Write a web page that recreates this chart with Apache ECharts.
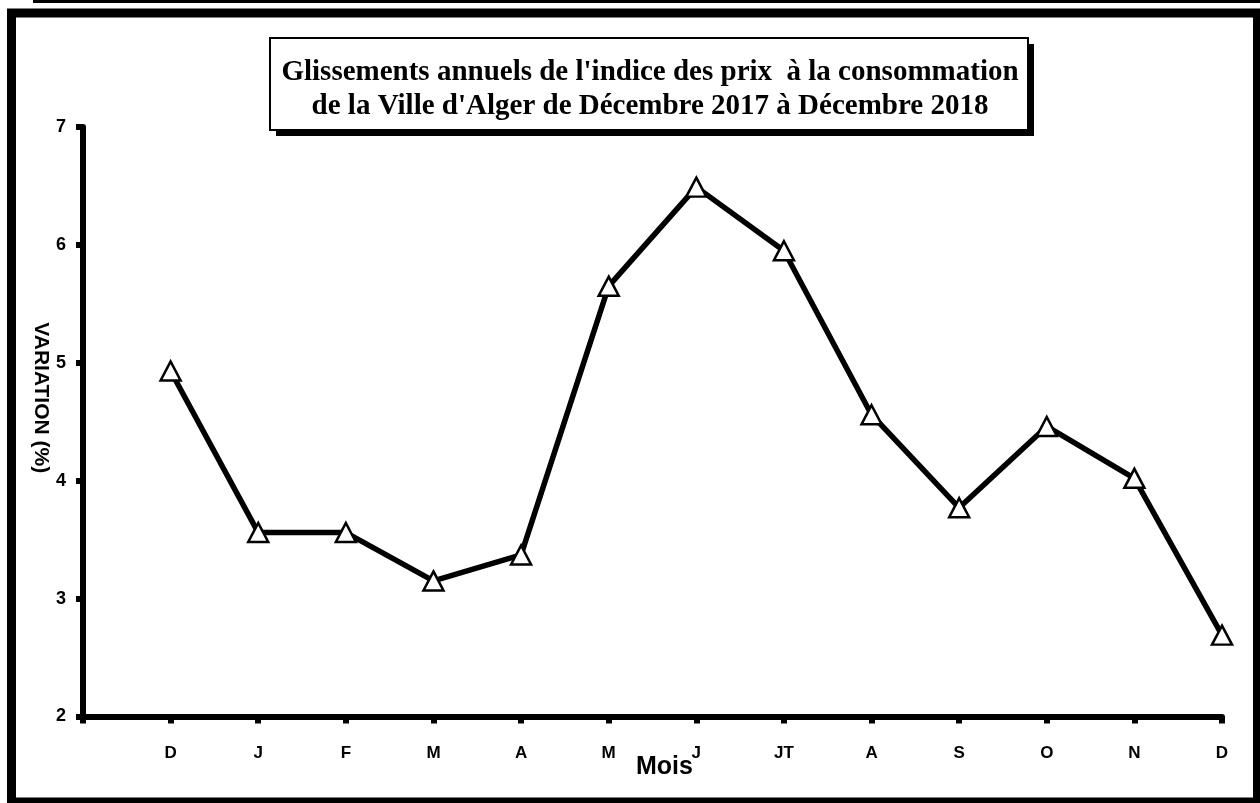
<!DOCTYPE html>
<html>
<head>
<meta charset="utf-8">
<script src="https://cdn.jsdelivr.net/npm/echarts@6/dist/echarts.min.js"></script>
<style>
  html, body { margin: 0; padding: 0; background: #fff; }
  #main { width: 1260px; height: 803px; }
</style>
</head>
<body>
<div id="main"></div>
<script>
// mois (premier emplacement vide pour décaler le D de décembre 2017)
var mois = ['', 'D', 'J', 'F', 'M', 'A', 'M', 'J', 'JT', 'A', 'S', 'O', 'N', 'D'];
// glissements annuels en %
var variation = ['-', 4.93, 3.56, 3.56, 3.15, 3.37, 5.65, 6.49, 5.95, 4.56, 3.77, 4.46, 4.02, 2.69];
var titreLignes = [
    "Glissements annuels de l'indice des prix  à la consommation",
    "de la Ville d'Alger de Décembre 2017 à Décembre 2018"
];

var myChart = echarts.init(document.getElementById('main'));

var option = {
    backgroundColor: '#fff',
    animation: false,
    grid: {
        left: 83,
        right: 38,
        top: 127,
        bottom: 86.5
    },
    graphic: [
        // trait en haut de page
        { type: 'rect', shape: { x: 33, y: 0, width: 1227, height: 3 }, style: { fill: '#000' } },
        // cadre
        { type: 'rect', shape: { x: 11.5, y: 13, width: 1246, height: 789 }, style: { fill: 'none', stroke: '#000', lineWidth: 9 } },
        // ombre du titre
        { type: 'rect', shape: { x: 276, y: 44, width: 758, height: 92 }, style: { fill: '#000' } },
        // boite du titre
        { type: 'rect', shape: { x: 270, y: 38, width: 758, height: 92 }, style: { fill: '#fff', stroke: '#000', lineWidth: 2 } },
        {
            type: 'text', x: 650, y: 56,
            style: {
                text: titreLignes.join('\n'),
                align: 'center',
                verticalAlign: 'top',
                font: 'bold 29px "Liberation Serif", "Times New Roman", serif',
                lineHeight: 34,
                fill: '#000'
            }
        }
    ],
    xAxis: {
        type: 'category',
        data: mois,
        boundaryGap: false,
        name: 'Mois',
        nameLocation: 'middle',
        nameMoveOverlap: false,
        nameGap: 38,
        nameTextStyle: {
            fontFamily: 'Liberation Sans, Arial, sans-serif',
            fontWeight: 'bold',
            fontSize: 25,
            color: '#000',
            padding: [0, 0, 0, 24]
        },
        axisLine: { lineStyle: { color: '#000', width: 6 } },
        axisTick: { alignWithLabel: true, length: 7, lineStyle: { color: '#000', width: 6 } },
        axisLabel: {
            interval: 0,
            margin: 28,
            fontFamily: 'Liberation Sans, Arial, sans-serif',
            fontWeight: 'bold',
            fontSize: 17,
            color: '#000'
        },
        splitLine: { show: false }
    },
    yAxis: {
        type: 'value',
        min: 2,
        max: 7,
        interval: 1,
        name: 'VARIATION (%)',
        nameLocation: 'middle',
        nameMoveOverlap: false,
        nameRotate: -90,
        nameGap: 32,
        nameTextStyle: {
            fontFamily: 'Liberation Sans, Arial, sans-serif',
            fontWeight: 'bold',
            fontSize: 21,
            color: '#000',
            padding: [0, 48, 0, 0]
        },
        axisLine: { show: true, lineStyle: { color: '#000', width: 6 } },
        axisTick: { show: true, length: 7, lineStyle: { color: '#000', width: 6 } },
        axisLabel: {
            margin: 17,
            fontFamily: 'Liberation Sans, Arial, sans-serif',
            fontWeight: 'bold',
            fontSize: 18,
            color: '#000'
        },
        splitLine: { show: false }
    },
    series: [{
        type: 'line',
        data: variation,
        symbol: 'triangle',
        symbolSize: [20, 19],
        lineStyle: { color: '#000', width: 5.5 },
        itemStyle: { color: '#fff', borderColor: '#000', borderWidth: 2.5 }
    }]
};

myChart.setOption(option);
</script>
</body>
</html>
